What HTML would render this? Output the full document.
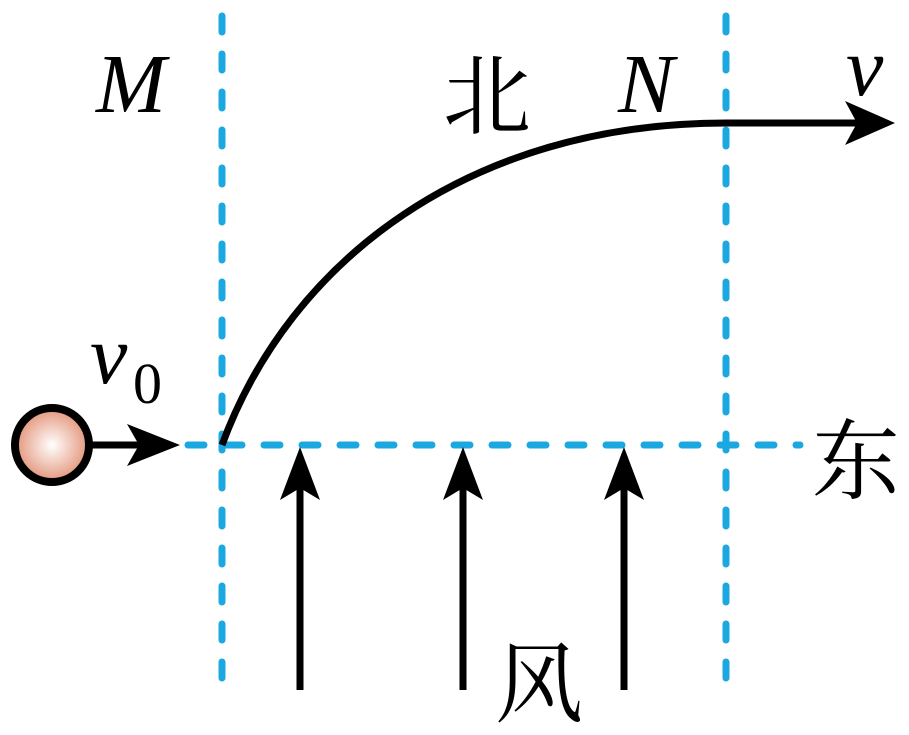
<!DOCTYPE html><html><head><style>body{margin:0;background:#fff}svg{display:block}.i{font-family:"Liberation Serif",serif;font-style:italic}.c{font-family:"Liberation Serif","Noto Serif CJK SC",serif}</style></head><body>
<svg width="909" height="735" viewBox="0 0 909 735" xmlns="http://www.w3.org/2000/svg">
<defs><radialGradient id="g" cx="0.5" cy="0.5" r="0.5"><stop offset="0" stop-color="#fff"/><stop offset="1" stop-color="#e3957a"/></radialGradient></defs>
<g stroke="#1ba8e0" stroke-width="7" stroke-linecap="round" stroke-dasharray="16 22" fill="none">
<line x1="222" y1="16" x2="222" y2="690"/>
<line x1="726" y1="16" x2="726" y2="690"/>
<line x1="188" y1="445" x2="800" y2="445"/>
</g>
<path d="M222 445 C290 260 470 123 726 123" stroke="#000" stroke-width="7" fill="none"/>
<line x1="726" y1="123" x2="860" y2="123" stroke="#000" stroke-width="7"/>
<path d="M895 123 L845 101 L857 123 L845 145 Z" fill="#000"/>
<circle cx="52" cy="445" r="37" fill="url(#g)" stroke="#000" stroke-width="8"/>
<line x1="88" y1="445" x2="150" y2="445" stroke="#000" stroke-width="7"/>
<path d="M180 445 L127 424 L139 445 L127 466 Z" fill="#000"/>
<g stroke="#000" stroke-width="7">
<line x1="300" y1="690" x2="300" y2="480"/><line x1="463" y1="690" x2="463" y2="480"/><line x1="624" y1="690" x2="624" y2="480"/>
</g>
<g fill="#000">
<path d="M300 447 L280 500 L300 488 L320 500 Z"/><path d="M463 447 L443 500 L463 488 L483 500 Z"/><path d="M624 447 L604 500 L624 488 L644 500 Z"/>
</g>
<g class="i" font-size="84" fill="#000">
<text x="96" y="112">M</text><text x="618" y="112">N</text><text x="846" y="95">v</text><text x="90" y="383">v</text>
</g>
<text x="133" y="403" class="c" font-size="58" fill="#000">0</text>
<g class="c" font-size="88" fill="#000">
<text x="443" y="127">北</text><text x="812" y="492">东</text><text x="495" y="715">风</text>
</g>
</svg></body></html>
